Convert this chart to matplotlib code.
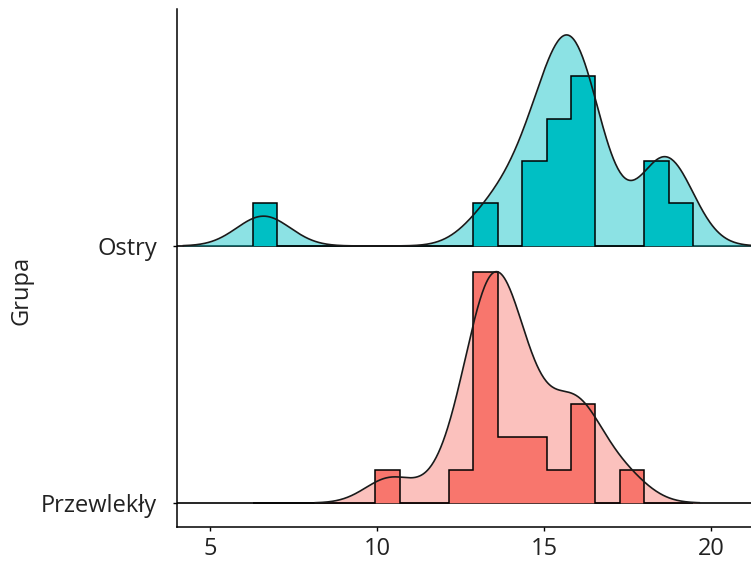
import numpy as np
import matplotlib
matplotlib.use("Agg")
import matplotlib.pyplot as plt
from matplotlib import mlab

# ── data ─────────────────────────────────────────────────────────────────────
GROUPS     = ["Przewlekły", "Ostry"]
GROUP_POS  = [1, 2]
OSTRY      = [6.6, 13.4, 14.45, 14.8, 15.25, 15.55, 15.75, 15.85, 15.95, 16.15,
              16.5, 18.45, 18.7, 18.8]
PRZEWLEKLY = [10.4, 12.3, 13.0, 13.2, 13.3, 13.4, 13.45, 13.5, 13.58, 13.9,
              14.2, 14.4, 14.6, 15.6, 15.85, 16.05, 16.3, 17.4]
X_TICKS    = [5, 10, 15, 20]

# ── style ────────────────────────────────────────────────────────────────────
BIN_START, BIN_WIDTH, N_BINS = 6.28, 0.733, 18
BANDWIDTH   = {"Ostry": 0.8, "Przewlekły": 0.75}
DARK_COLORS = {"Ostry": "#00BFC4", "Przewlekły": "#F8766D"}
RIDGE_SCALE = 0.9
FONT_SIZE   = 17

plt.rcParams["font.family"] = ["Open Sans", "DejaVu Sans"]

samples = {"Ostry": np.array(OSTRY), "Przewlekły": np.array(PRZEWLEKLY)}
edges = BIN_START + BIN_WIDTH * np.arange(N_BINS + 1)

# density curves and histograms, each normalised to the global max (ggridges style)
kdes, hists = {}, {}
for g, vals in samples.items():
    bw = BANDWIDTH[g]
    kde = mlab.GaussianKDE(vals, bw_method=bw / np.std(vals, ddof=1))
    xs = np.linspace(vals.min() - 3 * bw, vals.max() + 3 * bw, 500)
    kdes[g] = (xs, kde(xs))
    counts, _ = np.histogram(vals, bins=edges)
    hists[g] = counts / (len(vals) * BIN_WIDTH)

kde_max = max(d.max() for _, d in kdes.values())
hist_max = max(h.max() for h in hists.values())

fig = plt.figure(figsize=(7.51, 5.62), dpi=100)
ax = fig.add_axes([0.2353, 0.0623, 0.7647, 0.9217])

for g, base in zip(GROUPS, GROUP_POS):
    xs, dens = kdes[g]
    ys = base + dens / kde_max * RIDGE_SCALE
    ax.axhline(base, color="black", linewidth=1.2, zorder=1)
    ax.fill_between(xs, base, ys, color=DARK_COLORS[g], alpha=0.45,
                    linewidth=0, zorder=2)
    ax.stairs(base + hists[g] / hist_max * RIDGE_SCALE, edges, baseline=base,
              fill=True, facecolor=DARK_COLORS[g], edgecolor="black",
              linewidth=1.1, zorder=3)
    ax.plot(xs, ys, color="#1a1a1a", linewidth=1.2, zorder=4)

ax.set_xlim(4.0, 21.2)
ax.set_ylim(0.9066, 2.922)
ax.set_xticks(X_TICKS)
ax.set_yticks(GROUP_POS)
ax.set_yticklabels(GROUPS)
ax.tick_params(axis="both", length=3, width=1, color="black",
               labelsize=FONT_SIZE, labelcolor="#222222")
ax.tick_params(axis="x", pad=4)
ax.tick_params(axis="y", pad=11)
ax.set_ylabel("Grupa", fontsize=FONT_SIZE, color="#222222")
ax.yaxis.set_label_coords(-0.25, 0.4575)

for side in ["top", "right"]:
    ax.spines[side].set_visible(False)
for side in ["left", "bottom"]:
    ax.spines[side].set_linewidth(1.1)
    ax.spines[side].set_color("black")

fig.savefig("out.png", dpi=100)
